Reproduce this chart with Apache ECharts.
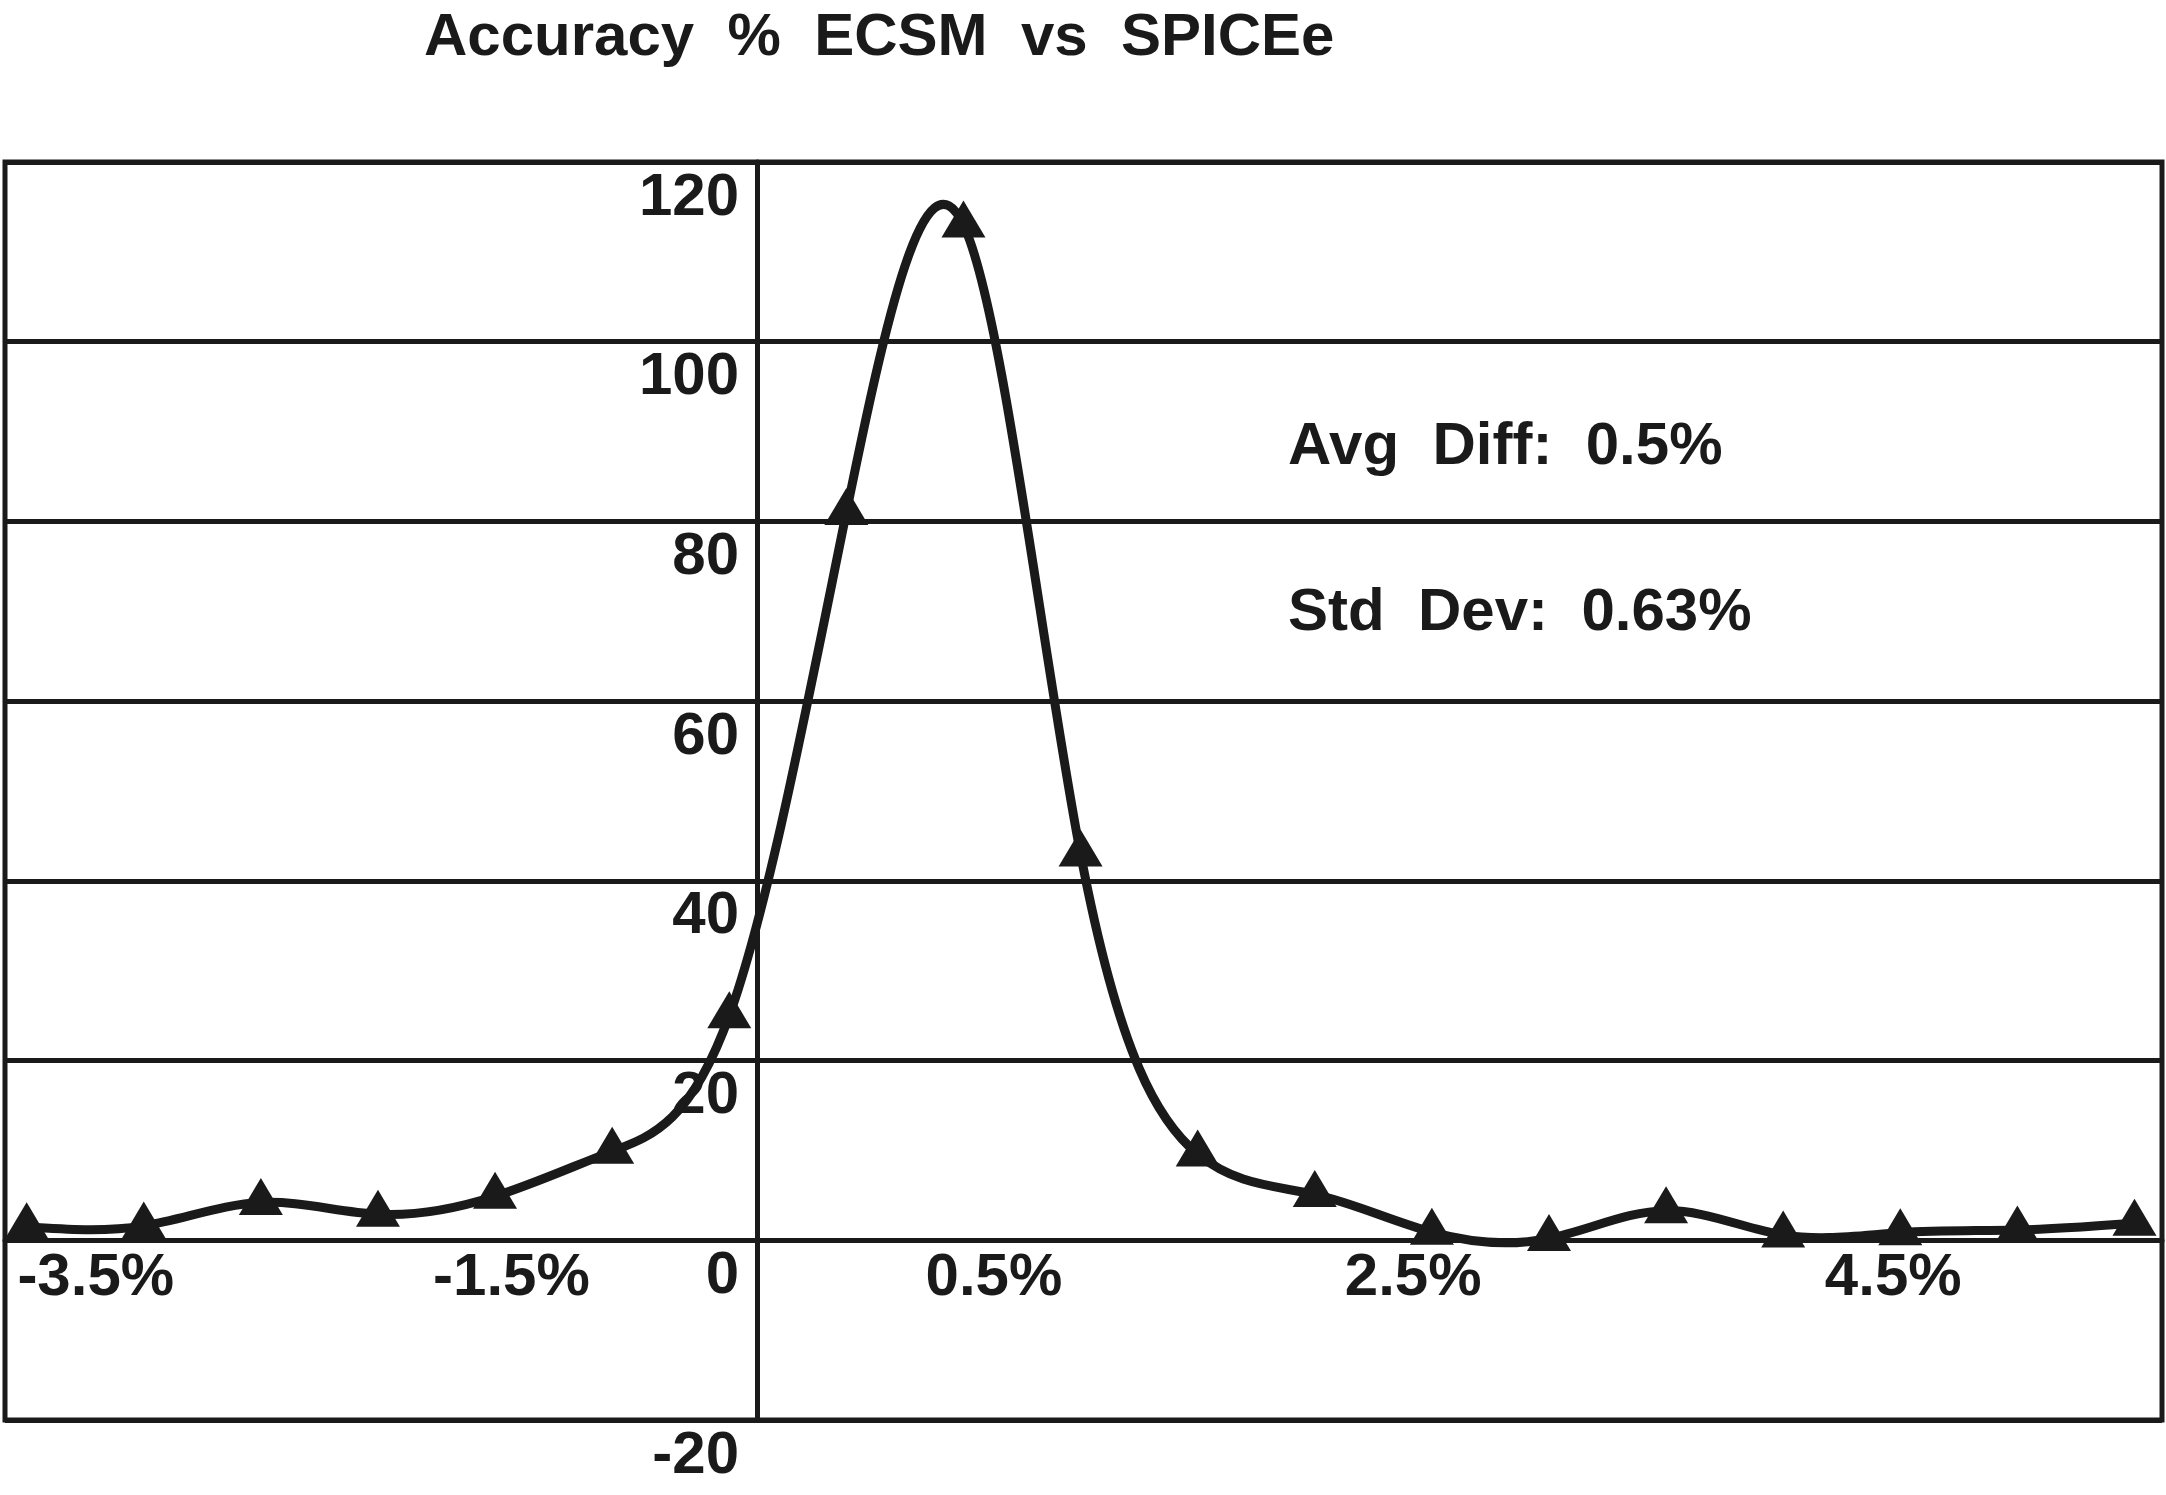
<!DOCTYPE html>
<html>
<head>
<meta charset="utf-8">
<script src="https://cdn.jsdelivr.net/npm/echarts@6/dist/echarts.min.js"></script>
<style>
  html, body { margin: 0; padding: 0; background: #fff; }
  #chart { width: 2166px; height: 1495px; }
</style>
</head>
<body>
<div id="chart"></div>
<script>
// ---- data ----
const chartTitle = 'Accuracy  %  ECSM  vs  SPICEe';
const notes = ['Avg  Diff:  0.5%', 'Std  Dev:  0.63%'];
// one value per plotted point (19 points, left to right)
const accuracyValues = [1.5, 1.6, 4.2, 2.9, 4.9, 9.9, 25, 81, 113, 43, 9.6, 5.1, 0.9, 0.2, 3.3, 0.6, 0.85, 1.15, 1.9];
// x tick labels and where they sit along the point sequence
const xTickLabels = ['-3.5%', '-1.5%', '0.5%', '2.5%', '4.5%'];
const xTickAt = [0.59, 4.14, 8.26, 11.84, 15.94];
// y axis
const yMin = -20, yMax = 120, yStep = 20;

const INK = '#1a1a1a';
const FONT = '"Liberation Sans", Arial, Helvetica, sans-serif';

const seriesData = accuracyValues.map((v, i) => [i, v]);

// Smoothed line: natural cubic spline through the points (unit spacing),
// each span drawn as a cubic Bezier through the axis scales.
function splineSlopes(y) {
  const n = y.length;
  const M = new Array(n).fill(0);
  if (n > 2) {
    const m = n - 2;
    const a = [], b = [], c = [], r = [];
    for (let k = 0; k < m; k++) {
      const i = k + 1;
      a.push(k === 0 ? 0 : 1); b.push(4); c.push(k === m - 1 ? 0 : 1);
      r.push(6 * (y[i + 1] - 2 * y[i] + y[i - 1]));
    }
    for (let k = 1; k < m; k++) {
      const w = a[k] / b[k - 1];
      b[k] -= w * c[k - 1];
      r[k] -= w * r[k - 1];
    }
    const sol = new Array(m);
    sol[m - 1] = r[m - 1] / b[m - 1];
    for (let k = m - 2; k >= 0; k--) sol[k] = (r[k] - c[k] * sol[k + 1]) / b[k];
    for (let k = 0; k < m; k++) M[k + 1] = sol[k];
  }
  const d = new Array(n);
  for (let i = 0; i < n - 1; i++) d[i] = (y[i + 1] - y[i]) - (2 * M[i] + M[i + 1]) / 6;
  d[n - 1] = (y[n - 1] - y[n - 2]) + (M[n - 2] + 2 * M[n - 1]) / 6;
  return d;
}
const slopes = splineSlopes(accuracyValues);

function renderSmooth(params, api) {
  const i = params.dataIndex;
  const n = accuracyValues.length;
  if (i >= n - 1) return null;
  const p1 = api.coord([i, accuracyValues[i]]);
  const p2 = api.coord([i + 1, accuracyValues[i + 1]]);
  const c1 = api.coord([i + 1 / 3, accuracyValues[i] + slopes[i] / 3]);
  const c2 = api.coord([i + 2 / 3, accuracyValues[i + 1] - slopes[i + 1] / 3]);
  return {
    type: 'bezierCurve',
    shape: {
      x1: p1[0], y1: p1[1], x2: p2[0], y2: p2[1],
      cpx1: c1[0], cpy1: c1[1], cpx2: c2[0], cpy2: c2[1]
    },
    style: { fill: null, stroke: INK, lineWidth: 9, lineCap: 'round' }
  };
}

const chart = echarts.init(document.getElementById('chart'), null, { renderer: 'canvas' });
chart.setOption({
  backgroundColor: '#ffffff',
  animation: false,
  title: [
    { text: chartTitle, left: 424, top: 8, padding: 0,
      textStyle: { fontFamily: FONT, fontSize: 60, fontWeight: 'bold', color: INK } },
    { text: notes[0], left: 1288, top: 417, padding: 0,
      textStyle: { fontFamily: FONT, fontSize: 60, fontWeight: 'bold', color: INK } },
    { text: notes[1], left: 1288, top: 583, padding: 0,
      textStyle: { fontFamily: FONT, fontSize: 60, fontWeight: 'bold', color: INK } }
  ],
  grid: {
    show: true, left: 5, right: 4, top: 162, bottom: 75,
    borderColor: INK, borderWidth: 5, backgroundColor: 'transparent',
    containLabel: false
  },
  xAxis: {
    type: 'value',
    min: -0.185, max: 18.235,
    position: 'bottom',
    offset: -179.7,
    axisLine: { show: true, onZero: false, lineStyle: { color: INK, width: 5 } },
    axisTick: { show: false },
    splitLine: { show: false },
    axisLabel: {
      show: true,
      customValues: xTickAt,
      margin: 8,
      fontFamily: FONT, fontSize: 60, fontWeight: 'bold', color: INK,
      formatter: function (v) {
        let best = 0, d = Infinity;
        xTickAt.forEach((p, k) => { const dd = Math.abs(p - v); if (dd < d) { d = dd; best = k; } });
        return xTickLabels[best];
      }
    }
  },
  yAxis: {
    type: 'value',
    min: yMin, max: yMax, interval: yStep,
    position: 'left',
    offset: -752,
    axisLine: { show: true, onZero: false, lineStyle: { color: INK, width: 5 } },
    axisTick: { show: false },
    splitLine: { show: true, lineStyle: { color: INK, width: 5 } },
    axisLabel: {
      show: true, showMinLabel: true, showMaxLabel: true,
      margin: 18,
      verticalAlign: 'top',
      padding: [6, 0, 0, 0],
      fontFamily: FONT, fontSize: 60, fontWeight: 'bold', color: INK
    }
  },
  series: [
    {
      type: 'custom',
      data: seriesData,
      renderItem: renderSmooth,
      z: 4,
      silent: true
    },
    {
      type: 'scatter',
      data: seriesData,
      symbol: 'triangle',
      symbolSize: [44, 37],
      symbolOffset: [0, -6],
      itemStyle: { color: INK, borderWidth: 0, opacity: 1 },
      z: 5
    }
  ]
});
</script>
</body>
</html>
